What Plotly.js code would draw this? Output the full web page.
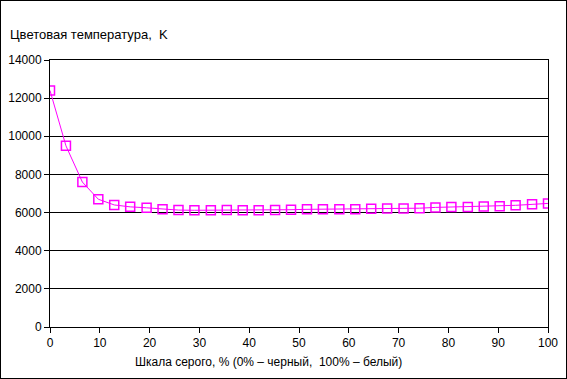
<!DOCTYPE html>
<html><head><meta charset="utf-8">
<script src="https://cdn.plot.ly/plotly-3.0.1.min.js"></script>
<style>html,body{margin:0;padding:0;background:#fff}#c{width:565px;height:377px;border:1px solid #000}</style>
</head><body><div id="c"></div>
<script>
const grayPct = [0,3.2,6.5,9.7,12.9,16.1,19.4,22.6,25.8,29.0,32.3,35.5,38.7,41.9,45.2,48.4,51.6,54.8,58.1,61.3,64.5,67.7,71.0,74.2,77.4,80.6,83.9,87.1,90.3,93.5,96.8,100];
const colorTemp = [12400,9500,7600,6700,6400,6300,6250,6180,6130,6120,6120,6130,6120,6120,6130,6150,6170,6180,6180,6180,6200,6220,6220,6230,6270,6290,6290,6320,6330,6380,6430,6480];
const xTicks = [0,10,20,30,40,50,60,70,80,90,100];
const yTicks = [0,2000,4000,6000,8000,10000,12000,14000];
const font = {family:'Liberation Sans, Arial, sans-serif', size:12, color:'#000'};
Plotly.newPlot('c', [{
  x: grayPct, y: colorTemp, type:'scatter', mode:'lines+markers',
  line:{color:'#ff00ff', width:1},
  marker:{symbol:'square-open', size:9, color:'#ff00ff', line:{width:1.5, color:'#ff00ff'}}
}], {
  width:565, height:377,
  margin:{l:49, r:18, t:59, b:51},
  paper_bgcolor:'#fff', plot_bgcolor:'#fff',
  font: font, showlegend:false,
  title:{text:'Цветовая температура,  K', x:9/565, xanchor:'left', xref:'container', y:1-33/377, yanchor:'middle', yref:'container', font:Object.assign({}, font, {size:13})},
  annotations:[{text:'Шкала серого, % (0% – черный,  100% – белый)', xref:'paper', yref:'paper', x:(268-50)/498, y:-35/267, xanchor:'center', yanchor:'middle', showarrow:false, font:font}],
  xaxis:{range:[0,100], tickvals:xTicks, ticks:'outside', ticklen:5, tickcolor:'#000', showline:true, linecolor:'#000', linewidth:1, mirror:true, showgrid:false, zeroline:false, fixedrange:true},
  yaxis:{range:[0,14000], tickvals:yTicks, ticks:'outside', ticklen:5, tickcolor:'#000', showline:true, linecolor:'#000', linewidth:1, mirror:true, showgrid:true, gridcolor:'#000', gridwidth:1, zeroline:false, fixedrange:true, tickformat:'d'}
}, {displayModeBar:false, staticPlot:true});
</script></body></html>
